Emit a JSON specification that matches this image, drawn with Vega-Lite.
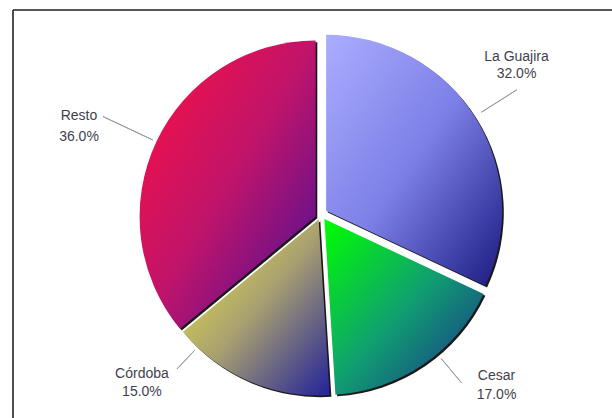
{
  "$schema": "https://vega.github.io/schema/vega-lite/v6.json",
  "width": 599,
  "height": 408,
  "autosize": "none",
  "padding": {"left": 13, "top": 10, "right": 0, "bottom": 0},
  "background": "white",
  "view": {"stroke": "#222222", "strokeWidth": 1.6, "strokeDash": [599, 1007, 408, 0]},
  "data": {"values": [
    {"region": "La Guajira", "share": 32, "idx": 1},
    {"region": "Cesar", "share": 17, "idx": 2},
    {"region": "Córdoba", "share": 15, "idx": 3},
    {"region": "Resto", "share": 36, "idx": 4}
  ]},
  "transform": [
    {"stack": "share", "groupby": [], "sort": [{"field": "idx", "order": "ascending"}], "as": ["v0", "v1"]},
    {"calculate": "(datum.v0 + datum.v1) / 2", "as": "mid"},
    {"calculate": "[datum.region, format(datum.share, '.1f') + '%']", "as": "label"}
  ],
  "layer": [
    {
      "transform": [{"filter": "datum.region === 'La Guajira'"}],
      "layer": [
        {"mark": {"type": "arc", "radius": 176, "fill": "#000000", "opacity": 0.9, "xOffset": 15.3, "yOffset": -1.5},
         "encoding": {"theta": {"field": "v0", "type": "quantitative", "scale": {"domain": [0, 100]}, "stack": null}, "theta2": {"field": "v1"}}},
        {"mark": {"type": "arc", "radius": 176, "xOffset": 13.6, "yOffset": -3.2,
          "fill": {"gradient": "linear", "x1": 0, "y1": 0, "x2": 1, "y2": 1, "stops": [{"offset": 0, "color": "#abadff"}, {"offset": 0.5, "color": "#7c7fe6"}, {"offset": 1, "color": "#1a1a80"}]}},
         "encoding": {"theta": {"field": "v0", "type": "quantitative", "scale": {"domain": [0, 100]}, "stack": null}, "theta2": {"field": "v1"}}},
        {"mark": {"type": "arc", "radius": 226, "radius2": 184, "filled": false, "stroke": "#9a9aa4", "strokeWidth": 1, "xOffset": 13.6, "yOffset": -3.2},
         "encoding": {"theta": {"field": "mid", "type": "quantitative", "scale": {"domain": [0, 100]}, "stack": null}, "theta2": {"field": "mid"}}},
        {"mark": {"type": "text", "radius": 230, "dx": 9.8, "dy": -33.8, "font": "Liberation Sans", "fontSize": 14, "fill": "#3f3f4f", "lineHeight": 17, "align": "center", "baseline": "middle"},
         "encoding": {"theta": {"field": "mid", "type": "quantitative", "scale": {"domain": [0, 100]}, "stack": null}, "text": {"field": "label"}}}
      ]
    },
    {
      "transform": [{"filter": "datum.region === 'Cesar'"}],
      "layer": [
        {"mark": {"type": "arc", "radius": 176, "fill": "#000000", "opacity": 0.9, "xOffset": 13.6, "yOffset": 6.7},
         "encoding": {"theta": {"field": "v0", "type": "quantitative", "scale": {"domain": [0, 100]}, "stack": null}, "theta2": {"field": "v1"}}},
        {"mark": {"type": "arc", "radius": 176, "xOffset": 11.9, "yOffset": 5.0,
          "fill": {"gradient": "linear", "x1": 0, "y1": 0, "x2": 1, "y2": 1, "stops": [{"offset": 0, "color": "#00ff00"}, {"offset": 0.5, "color": "#10a070"}, {"offset": 1, "color": "#1c2890"}]}},
         "encoding": {"theta": {"field": "v0", "type": "quantitative", "scale": {"domain": [0, 100]}, "stack": null}, "theta2": {"field": "v1"}}},
        {"mark": {"type": "arc", "radius": 214, "radius2": 182, "thetaOffset": -0.1, "theta2Offset": -0.1, "filled": false, "stroke": "#9a9aa4", "strokeWidth": 1, "xOffset": 11.9, "yOffset": 5.0},
         "encoding": {"theta": {"field": "mid", "type": "quantitative", "scale": {"domain": [0, 100]}, "stack": null}, "theta2": {"field": "mid"}}},
        {"mark": {"type": "text", "radius": 230, "dx": 54.7, "dy": -28.2, "font": "Liberation Sans", "fontSize": 14, "fill": "#3f3f4f", "lineHeight": 19, "align": "center", "baseline": "middle"},
         "encoding": {"theta": {"field": "mid", "type": "quantitative", "scale": {"domain": [0, 100]}, "stack": null}, "text": {"field": "label"}}}
      ]
    },
    {
      "transform": [{"filter": "datum.region === 'Córdoba'"}],
      "layer": [
        {"mark": {"type": "arc", "radius": 176, "fill": "#000000", "opacity": 0.9, "xOffset": 7.8, "yOffset": 7.2},
         "encoding": {"theta": {"field": "v0", "type": "quantitative", "scale": {"domain": [0, 100]}, "stack": null}, "theta2": {"field": "v1"}}},
        {"mark": {"type": "arc", "radius": 176, "xOffset": 6.1, "yOffset": 5.5,
          "fill": {"gradient": "linear", "x1": 0, "y1": 0, "x2": 1, "y2": 1, "stops": [{"offset": 0, "color": "#f0ea40"}, {"offset": 0.5, "color": "#a8a070"}, {"offset": 1, "color": "#22229a"}]}},
         "encoding": {"theta": {"field": "v0", "type": "quantitative", "scale": {"domain": [0, 100]}, "stack": null}, "theta2": {"field": "v1"}}},
        {"mark": {"type": "arc", "radius": 206, "radius2": 180, "thetaOffset": 0.35, "theta2Offset": 0.35, "filled": false, "stroke": "#9a9aa4", "strokeWidth": 1, "xOffset": 6.1, "yOffset": 5.5},
         "encoding": {"theta": {"field": "mid", "type": "quantitative", "scale": {"domain": [0, 100]}, "stack": null}, "theta2": {"field": "mid"}}},
        {"mark": {"type": "text", "radius": 230, "dx": -79.2, "dy": -51.1, "font": "Liberation Sans", "fontSize": 14, "fill": "#3f3f4f", "lineHeight": 18, "align": "center", "baseline": "middle"},
         "encoding": {"theta": {"field": "mid", "type": "quantitative", "scale": {"domain": [0, 100]}, "stack": null}, "text": {"field": "label"}}}
      ]
    },
    {
      "transform": [{"filter": "datum.region === 'Resto'"}],
      "layer": [
        {"mark": {"type": "arc", "radius": 176, "fill": "#000000", "opacity": 0.9, "xOffset": 4.8, "yOffset": 4.3},
         "encoding": {"theta": {"field": "v0", "type": "quantitative", "scale": {"domain": [0, 100]}, "stack": null}, "theta2": {"field": "v1"}}},
        {"mark": {"type": "arc", "radius": 176, "xOffset": 3.1, "yOffset": 2.6,
          "fill": {"gradient": "linear", "x1": 0, "y1": 0, "x2": 1, "y2": 1, "stops": [{"offset": 0, "color": "#ff0f3f"}, {"offset": 0.5, "color": "#c0146a"}, {"offset": 1, "color": "#40109a"}]}},
         "encoding": {"theta": {"field": "v0", "type": "quantitative", "scale": {"domain": [0, 100]}, "stack": null}, "theta2": {"field": "v1"}}},
        {"mark": {"type": "arc", "radius": 235, "radius2": 180, "filled": false, "stroke": "#9a9aa4", "strokeWidth": 1, "xOffset": 3.1, "yOffset": 2.6},
         "encoding": {"theta": {"field": "mid", "type": "quantitative", "scale": {"domain": [0, 100]}, "stack": null}, "theta2": {"field": "mid"}}},
        {"mark": {"type": "text", "radius": 230, "dx": -25.4, "dy": 0, "font": "Liberation Sans", "fontSize": 14, "fill": "#3f3f4f", "lineHeight": 21, "align": "center", "baseline": "middle"},
         "encoding": {"theta": {"field": "mid", "type": "quantitative", "scale": {"domain": [0, 100]}, "stack": null}, "text": {"field": "label"}}}
      ]
    }
  ]
}
